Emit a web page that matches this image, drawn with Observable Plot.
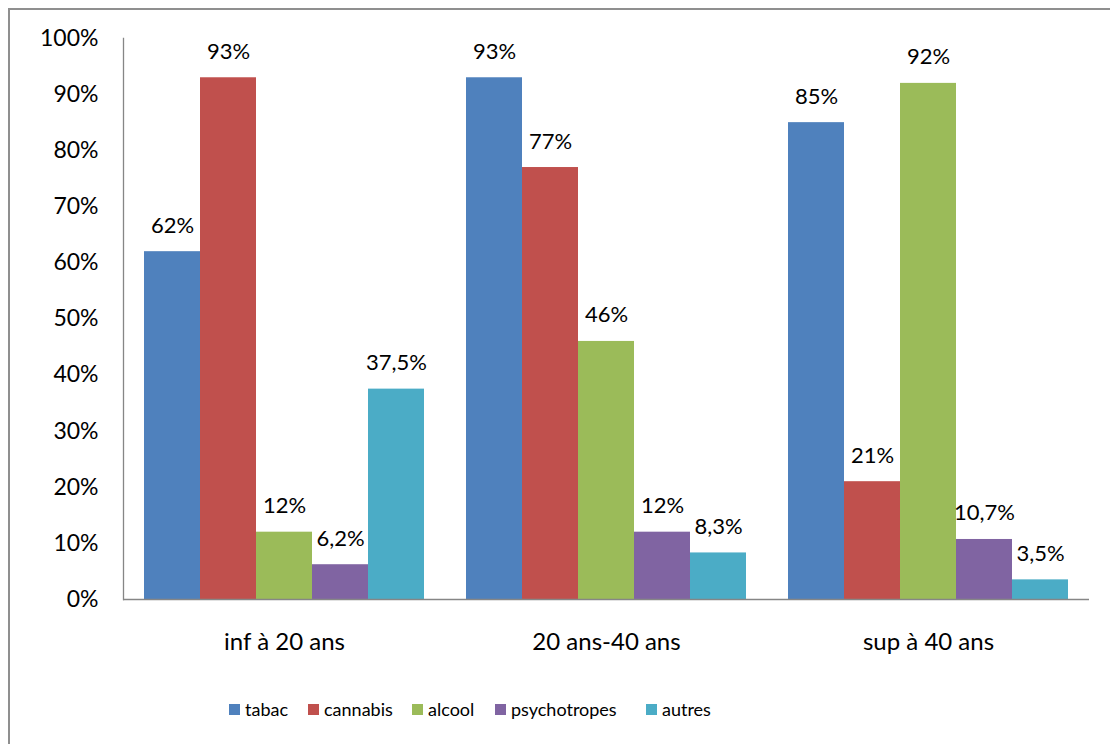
<!DOCTYPE html>
<html>
<head>
<meta charset="utf-8">
<script src="https://cdn.jsdelivr.net/npm/d3@7"></script>
<script src="https://cdn.jsdelivr.net/npm/@observablehq/plot@0.6"></script>
<style>
  html, body { margin: 0; padding: 0; background: #fff; overflow: hidden; width: 1110px; height: 744px; }
  #frame { position: absolute; left: 8px; top: 8px; width: 1200px; height: 800px; border: 2px solid #8f8f8f; box-sizing: border-box; pointer-events: none; }
  #chart { position: absolute; left: 0; top: 0; }
  #legend { position: absolute; left: 229px; top: 698px; display: flex; align-items: center; font-family: Lato, sans-serif; font-size: 18px; color: #000; }
  .item { display: flex; align-items: center; white-space: nowrap; }
  .sw { width: 11px; height: 11px; margin-right: 5px; flex: none; }
</style>
</head>
<body>
<div id="frame"></div>
<div id="chart"></div>
<div id="legend"></div>
<script>
const groups = ["inf à 20 ans", "20 ans-40 ans", "sup à 40 ans"];
const series = ["tabac", "cannabis", "alcool", "psychotropes", "autres"];
const tabac = [62, 93, 85];
const cannabis = [93, 77, 21];
const alcool = [12, 46, 92];
const psychotropes = [6.2, 12, 10.7];
const autres = [37.5, 8.3, 3.5];
const colors = ["#4F81BD", "#C0504D", "#9BBB59", "#8064A2", "#4BACC6"];
const yTicks = [0, 10, 20, 30, 40, 50, 60, 70, 80, 90, 100];
const yTickLabels = ["0%", "10%", "20%", "30%", "40%", "50%", "60%", "70%", "80%", "90%", "100%"];

const seriesValues = [tabac, cannabis, alcool, psychotropes, autres];
const fmt = v => String(v).replace(".", ",") + "%";
const data = [];
groups.forEach((g, gi) => {
  series.forEach((s, si) => {
    const v = seriesValues[si][gi];
    data.push({group: g, series: s, value: v, label: fmt(v)});
  });
});

const chart = Plot.plot({
  width: 1110,
  height: 680,
  marginTop: 38,
  marginBottom: 81,
  marginLeft: 122,
  marginRight: 21,
  style: {fontFamily: "Lato, sans-serif", fontSize: "22px", color: "#000", background: "transparent"},
  fx: {domain: groups, padding: 0},
  x: {domain: series, paddingInner: 0, paddingOuter: 0.375, axis: null},
  y: {domain: [0, 100]},
  color: {domain: series, range: colors},
  marks: [
    Plot.barY(data, {fx: "group", x: "series", y: "value", fill: "series"}),
    Plot.ruleY([0], {stroke: "#868686", strokeWidth: 1.3}),
    Plot.frame({anchor: "left", facetAnchor: "left", stroke: "#868686", strokeWidth: 1.3}),
    Plot.text(data, {fx: "group", x: "series", y: "value", text: "label", dy: -19, lineAnchor: "bottom", fill: "#000"}),
    Plot.axisY({ticks: yTicks, tickFormat: (d) => yTickLabels[yTicks.indexOf(d)], tickSize: 0, tickPadding: 25, label: null, fill: "#000", fontSize: 23}),
    Plot.axisFx({anchor: "bottom", tickSize: 0, tickPadding: 33, label: null, fill: "#000", fontSize: 24})
  ]
});
document.getElementById("chart").appendChild(chart);

const slotWidths = [79, 104, 83, 151, 80];
const legend = document.getElementById("legend");
series.forEach((s, i) => {
  const item = document.createElement("div");
  item.className = "item";
  item.style.width = slotWidths[i] + "px";
  const sw = document.createElement("div");
  sw.className = "sw";
  sw.style.background = colors[i];
  const t = document.createElement("span");
  t.textContent = s;
  item.appendChild(sw);
  item.appendChild(t);
  legend.appendChild(item);
});
</script>
</body>
</html>
